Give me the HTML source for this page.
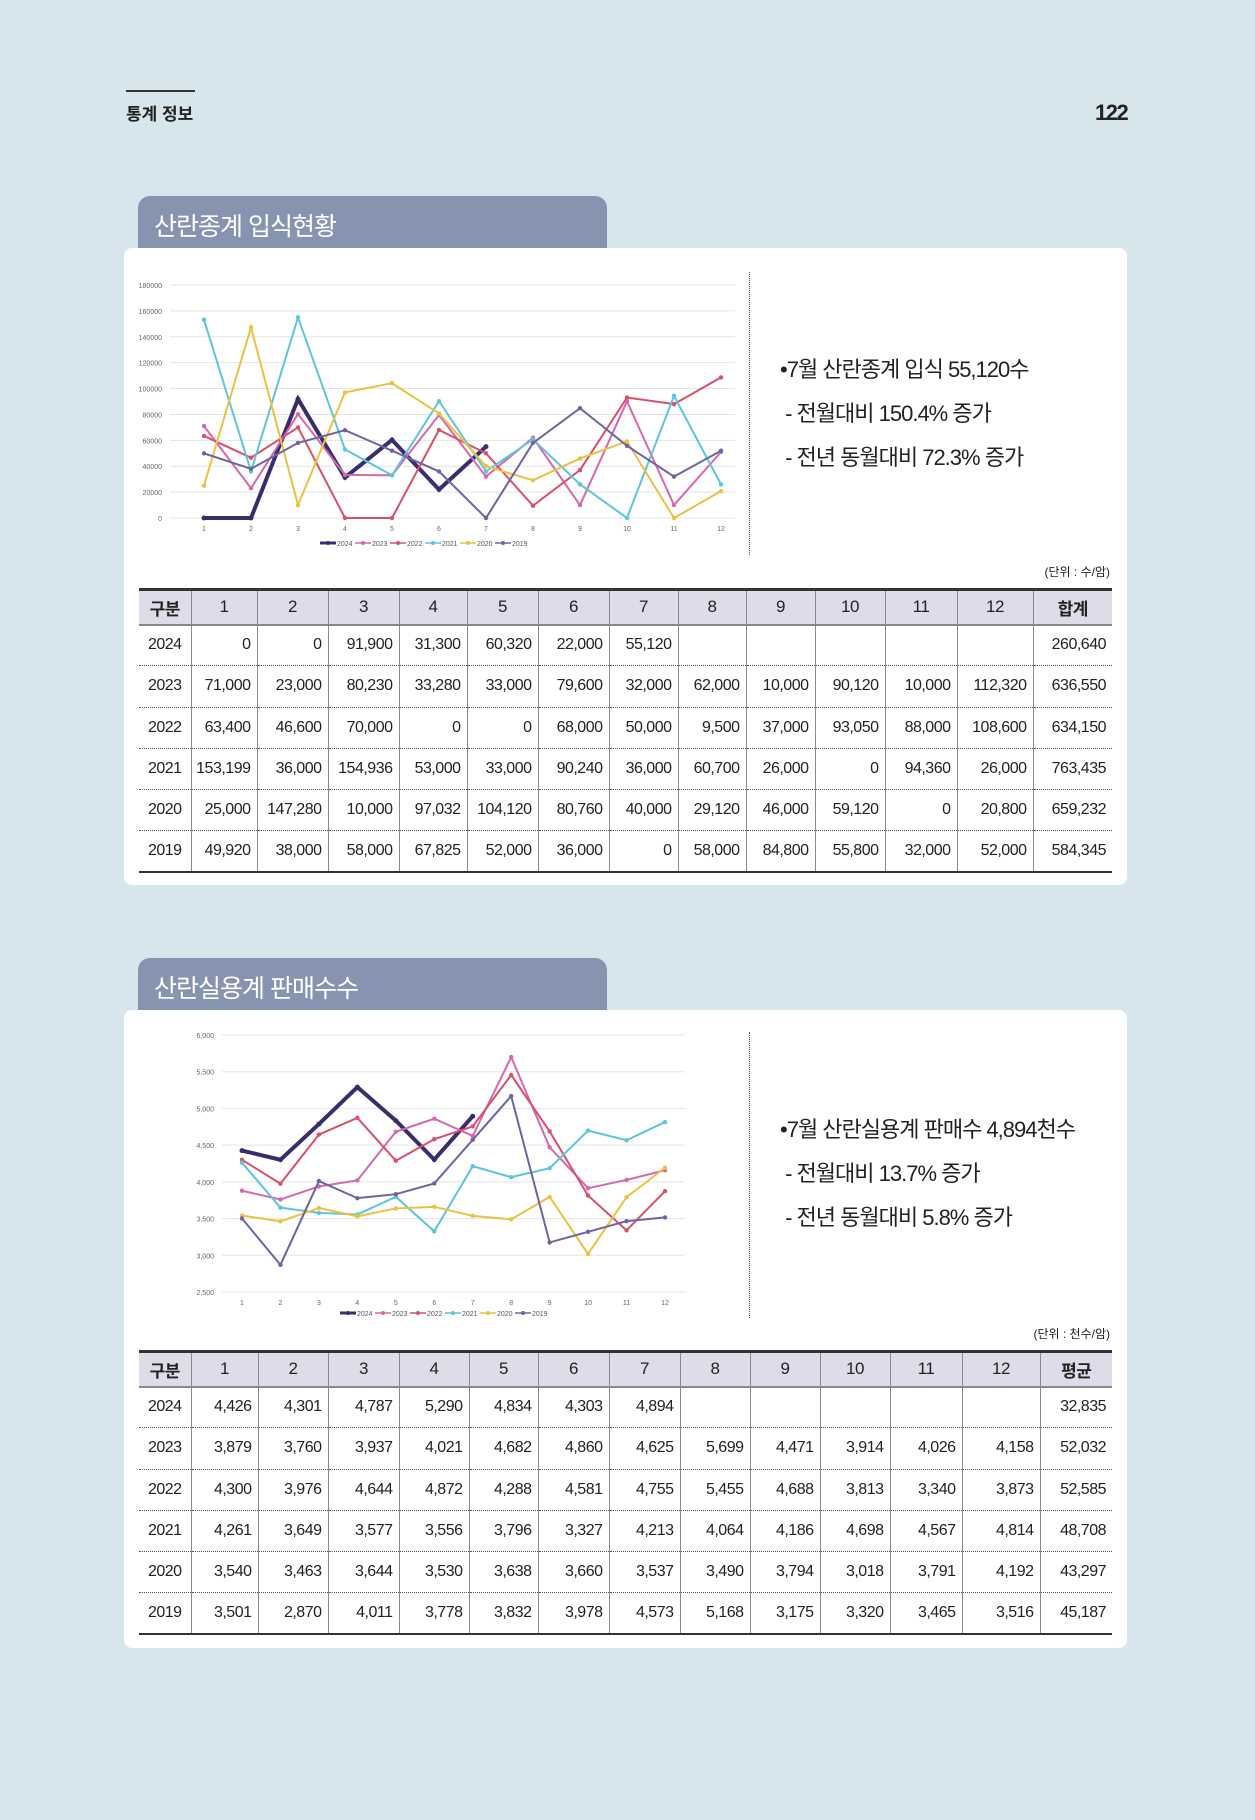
<!DOCTYPE html>
<html><head><meta charset="utf-8">
<style>
*{margin:0;padding:0;box-sizing:border-box}
body{width:1255px;height:1820px;background:#d7e5ed;font-family:"Liberation Sans","Noto Sans CJK KR",sans-serif;position:relative;overflow:hidden;color:#222}
.abs{position:absolute}
.tab{position:absolute;left:138px;width:469px;height:53px;background:#8794b0;border-radius:12px 12px 0 0;color:#fff;font-size:25px;font-weight:normal;padding:11px 16px;letter-spacing:-1px}
.panel{position:absolute;left:124px;width:1003px;background:#fff;border-radius:8px}
.txt{position:absolute;left:780px;font-size:22px;letter-spacing:-1px;color:#222;line-height:44px}
table{position:absolute;left:139px;width:973px;border-collapse:collapse;table-layout:fixed;font-size:16px;letter-spacing:-0.5px}
th{background:#dcdde8;height:35px;font-weight:normal;font-size:17px;border-left:1px solid #8a8a8a;border-top:3px solid #333;border-bottom:2px solid #888;text-align:center}
th:first-child,th:last-child{font-weight:bold}
td{border-left:1px solid #8a8a8a;border-bottom:1px dotted #555;text-align:right;padding-right:6px;height:41.3px}
td:first-child,th:first-child{border-left:none;text-align:center;padding:0}
tr:last-child td{border-bottom:2px solid #333}
.unit{position:absolute;font-size:12px;right:145px}
</style></head><body>
<div class="abs" style="left:126px;top:90px;width:69px;height:2px;background:#333"></div>
<div class="abs" style="left:126px;top:100px;font-size:17px;font-weight:bold">통계 정보</div>
<div class="abs" style="left:1095px;top:100px;font-size:22px;font-weight:bold;letter-spacing:-1.5px">122</div>

<div class="tab" style="top:196px">산란종계 입식현황</div>
<div class="panel" style="top:248px;height:637px"></div>
<svg id="c1" class="abs" style="left:0;top:0" width="1255" height="1820"></svg>
<div class="abs" style="left:749px;top:272px;height:283px;border-left:1px dotted #555"></div>
<div class="txt" style="top:348px">•7월 산란종계 입식 55,120수<br>&nbsp;- 전월대비 150.4% 증가<br>&nbsp;- 전년 동월대비 72.3% 증가</div>
<div class="unit" style="top:563px">(단위 : 수/암)</div>
<table style="top:588px">
<colgroup><col style="width:52px"><col style="width:66px"><col style="width:71px"><col style="width:71px"><col style="width:68px"><col style="width:71px"><col style="width:71px"><col style="width:69px"><col style="width:68px"><col style="width:69px"><col style="width:70px"><col style="width:72px"><col style="width:76px"><col style="width:79px"></colgroup>
<tr><th>구분</th><th>1</th><th>2</th><th>3</th><th>4</th><th>5</th><th>6</th><th>7</th><th>8</th><th>9</th><th>10</th><th>11</th><th>12</th><th>합계</th></tr>
<tr><td>2024</td><td>0</td><td>0</td><td>91,900</td><td>31,300</td><td>60,320</td><td>22,000</td><td>55,120</td><td></td><td></td><td></td><td></td><td></td><td>260,640</td></tr>
<tr><td>2023</td><td>71,000</td><td>23,000</td><td>80,230</td><td>33,280</td><td>33,000</td><td>79,600</td><td>32,000</td><td>62,000</td><td>10,000</td><td>90,120</td><td>10,000</td><td>112,320</td><td>636,550</td></tr>
<tr><td>2022</td><td>63,400</td><td>46,600</td><td>70,000</td><td>0</td><td>0</td><td>68,000</td><td>50,000</td><td>9,500</td><td>37,000</td><td>93,050</td><td>88,000</td><td>108,600</td><td>634,150</td></tr>
<tr><td>2021</td><td>153,199</td><td>36,000</td><td>154,936</td><td>53,000</td><td>33,000</td><td>90,240</td><td>36,000</td><td>60,700</td><td>26,000</td><td>0</td><td>94,360</td><td>26,000</td><td>763,435</td></tr>
<tr><td>2020</td><td>25,000</td><td>147,280</td><td>10,000</td><td>97,032</td><td>104,120</td><td>80,760</td><td>40,000</td><td>29,120</td><td>46,000</td><td>59,120</td><td>0</td><td>20,800</td><td>659,232</td></tr>
<tr><td>2019</td><td>49,920</td><td>38,000</td><td>58,000</td><td>67,825</td><td>52,000</td><td>36,000</td><td>0</td><td>58,000</td><td>84,800</td><td>55,800</td><td>32,000</td><td>52,000</td><td>584,345</td></tr>
</table>

<div class="tab" style="top:958px">산란실용계 판매수수</div>
<div class="panel" style="top:1010px;height:638px"></div>
<svg id="c2" class="abs" style="left:0;top:0" width="1255" height="1820"></svg>
<div class="abs" style="left:749px;top:1032px;height:286px;border-left:1px dotted #555"></div>
<div class="txt" style="top:1108px">•7월 산란실용계 판매수 4,894천수<br>&nbsp;- 전월대비 13.7% 증가<br>&nbsp;- 전년 동월대비 5.8% 증가</div>
<div class="unit" style="top:1325px">(단위 : 천수/암)</div>
<table style="top:1350px">
<colgroup><col style="width:52px"><col style="width:67px"><col style="width:70px"><col style="width:71px"><col style="width:70px"><col style="width:69px"><col style="width:71px"><col style="width:71px"><col style="width:70px"><col style="width:70px"><col style="width:70px"><col style="width:72px"><col style="width:78px"><col style="width:72px"></colgroup>
<tr><th>구분</th><th>1</th><th>2</th><th>3</th><th>4</th><th>5</th><th>6</th><th>7</th><th>8</th><th>9</th><th>10</th><th>11</th><th>12</th><th>평균</th></tr>
<tr><td>2024</td><td>4,426</td><td>4,301</td><td>4,787</td><td>5,290</td><td>4,834</td><td>4,303</td><td>4,894</td><td></td><td></td><td></td><td></td><td></td><td>32,835</td></tr>
<tr><td>2023</td><td>3,879</td><td>3,760</td><td>3,937</td><td>4,021</td><td>4,682</td><td>4,860</td><td>4,625</td><td>5,699</td><td>4,471</td><td>3,914</td><td>4,026</td><td>4,158</td><td>52,032</td></tr>
<tr><td>2022</td><td>4,300</td><td>3,976</td><td>4,644</td><td>4,872</td><td>4,288</td><td>4,581</td><td>4,755</td><td>5,455</td><td>4,688</td><td>3,813</td><td>3,340</td><td>3,873</td><td>52,585</td></tr>
<tr><td>2021</td><td>4,261</td><td>3,649</td><td>3,577</td><td>3,556</td><td>3,796</td><td>3,327</td><td>4,213</td><td>4,064</td><td>4,186</td><td>4,698</td><td>4,567</td><td>4,814</td><td>48,708</td></tr>
<tr><td>2020</td><td>3,540</td><td>3,463</td><td>3,644</td><td>3,530</td><td>3,638</td><td>3,660</td><td>3,537</td><td>3,490</td><td>3,794</td><td>3,018</td><td>3,791</td><td>4,192</td><td>43,297</td></tr>
<tr><td>2019</td><td>3,501</td><td>2,870</td><td>4,011</td><td>3,778</td><td>3,832</td><td>3,978</td><td>4,573</td><td>5,168</td><td>3,175</td><td>3,320</td><td>3,465</td><td>3,516</td><td>45,187</td></tr>
</table>

<script>
const months = ["1","2","3","4","5","6","7","8","9","10","11","12"];
const seriesNames = ["2024","2023","2022","2021","2020","2019"];
const c1Ticks = [0,20000,40000,60000,80000,100000,120000,140000,160000,180000];
const c1s2024 = [0,0,91900,31300,60320,22000,55120];
const c1s2023 = [71000,23000,80230,33280,33000,79600,32000,62000,10000,90120,10000,51000];
const c1s2022 = [63400,46600,70000,0,0,68000,50000,9500,37000,93050,88000,108600];
const c1s2021 = [153199,36000,154936,53000,33000,90240,36000,60700,26000,0,94360,26000];
const c1s2020 = [25000,147280,10000,97032,104120,80760,40000,29120,46000,59120,0,20800];
const c1s2019 = [49920,38000,58000,67825,52000,36000,0,58000,84800,55800,32000,52000];
const c2Ticks = [2500,3000,3500,4000,4500,5000,5500,6000];
const c2TickLabels = ["2,500","3,000","3,500","4,000","4,500","5,000","5,500","6,000"];
const c2s2024 = [4426,4301,4787,5290,4834,4303,4894];
const c2s2023 = [3879,3760,3937,4021,4682,4860,4625,5699,4471,3914,4026,4158];
const c2s2022 = [4300,3976,4644,4872,4288,4581,4755,5455,4688,3813,3340,3873];
const c2s2021 = [4261,3649,3577,3556,3796,3327,4213,4064,4186,4698,4567,4814];
const c2s2020 = [3540,3463,3644,3530,3638,3660,3537,3490,3794,3018,3791,4192];
const c2s2019 = [3501,2870,4011,3778,3832,3978,4573,5168,3175,3320,3465,3516];
const colors = ["#3b2d6b","#d668ad","#d8506b","#5cc6da","#e9c243","#6f64a3"];
const NS = "http://www.w3.org/2000/svg";
function mk(svg,tag,attrs){const e=document.createElementNS(NS,tag);for(const k in attrs)e.setAttribute(k,attrs[k]);svg.appendChild(e);return e;}
function drawChart(id,cfg,series,ticks,tickLabels,prefix){
  const svg=document.getElementById(id);
  const xs=i=>cfg.x1+(cfg.x12-cfg.x1)*i/11;
  const ys=v=>cfg.y0+(cfg.yTop-cfg.y0)*(v-cfg.vmin)/(cfg.vmax-cfg.vmin);
  ticks.forEach((t,i)=>{
    const g=mk(svg,"line",{x1:cfg.gx0,x2:cfg.gx1,y1:ys(t),y2:ys(t),stroke:"#e4e4e4","stroke-width":1});
    
    
    const tx=mk(svg,"text",{x:cfg.gx0-8,y:ys(t)+3,"font-size":7,"text-anchor":"end",fill:"#666"});
    tx.textContent=tickLabels[i];
    
    
  });
  months.forEach((m,i)=>{
    const tx=mk(svg,"text",{x:xs(i),y:cfg.y0+13,"font-size":7,"text-anchor":"middle",fill:"#666"});
    tx.textContent=m;
    
    
  });
  series.forEach((s,k)=>{
    const pts=s.map((v,i)=>xs(i)+","+ys(v)).join(" ");
    const pl=mk(svg,"polyline",{points:pts,fill:"none",stroke:colors[k],"stroke-width":k==0?4:2,"stroke-linejoin":"miter"});
    
    
    s.forEach((v,i)=>{
      const c=mk(svg,"circle",{cx:xs(i),cy:ys(v),r:k==0?2.5:2.2,fill:colors[k]});
      
      
    });
  });
  let lx=cfg.legX;
  seriesNames.forEach((n,k)=>{
    const l=mk(svg,"line",{x1:lx,x2:lx+16,y1:cfg.legY,y2:cfg.legY,stroke:colors[k],"stroke-width":k==0?3:1.5});
    
    
    mk(svg,"circle",{cx:lx+8,cy:cfg.legY,r:2,fill:colors[k]});
    const t=mk(svg,"text",{x:lx+17,y:cfg.legY+3,"font-size":7,fill:"#555"});
    t.textContent=n;
    
    
    lx+=35;
  });
}
drawChart("c1",{x1:204,x12:721,y0:518,yTop:285,vmin:0,vmax:180000,gx0:170,gx1:735,legX:320,legY:543},
  [c1s2024,c1s2023,c1s2022,c1s2021,c1s2020,c1s2019],c1Ticks,c1Ticks.map(String),"chart1");
drawChart("c2",{x1:242,x12:665,y0:1292,yTop:1035,vmin:2500,vmax:6000,gx0:222,gx1:685,legX:340,legY:1313},
  [c2s2024,c2s2023,c2s2022,c2s2021,c2s2020,c2s2019],c2Ticks,c2TickLabels,"chart2");
</script>
</body></html>
